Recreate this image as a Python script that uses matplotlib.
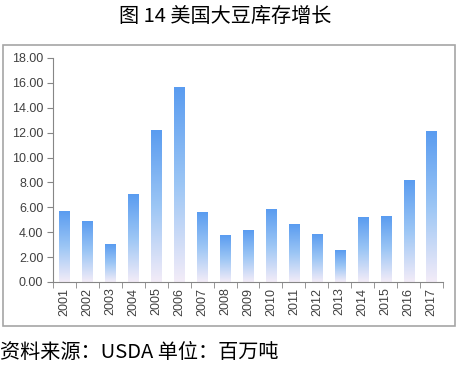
import matplotlib.pyplot as plt
import numpy as np
from matplotlib.colors import LinearSegmentedColormap
from matplotlib.patches import Rectangle

plt.rcParams["font.family"] = ["Liberation Sans", "Noto Sans CJK SC", "DejaVu Sans"]

years = [str(y) for y in range(2001, 2018)]
stocks = [5.65, 4.85, 3.05, 7.0, 12.2, 15.65, 5.55, 3.75, 4.1,
          5.8, 4.65, 3.8, 2.5, 5.15, 5.3, 8.15, 12.1]
yticks = np.arange(0, 18.01, 2)

fig = plt.figure(figsize=(4.62, 3.77), dpi=100)

# outer chart frame
fig.patches.append(Rectangle((3 / 462, 1 - 326 / 377), 452 / 462, 281 / 377,
                             transform=fig.transFigure, fill=False,
                             edgecolor="#a6a6a6", linewidth=1.2))

ax = fig.add_axes([53 / 462, 95 / 377, 390 / 462, 224 / 377])

cmap = LinearSegmentedColormap.from_list("bar", ["#f3ecf8", "#9cc6f5", "#5a9cf0"])
grad = np.linspace(0, 1, 256).reshape(-1, 1)
width = 0.44
x = np.arange(len(years))
for xi, h in zip(x, stocks):
    ax.imshow(grad, cmap=cmap, aspect="auto", origin="lower",
              extent=[xi - width / 2, xi + width / 2, 0, h], zorder=2)

ax.set_xlim(-0.5, len(years) - 0.5)
ax.set_ylim(0, 18)
ax.set_yticks(yticks)
ax.set_yticklabels([f"{v:.2f}" for v in yticks], fontsize=9, color="#404040")
ax.set_xticks(x)
ax.set_xticklabels(years, rotation=90, fontsize=9, color="#404040")
ax.set_xticks(np.arange(-0.5, len(years)), minor=True)
ax.tick_params(axis="x", which="major", length=0, pad=4)
ax.tick_params(axis="x", which="minor", length=4, color="#868686")
ax.tick_params(axis="y", length=4, color="#868686", pad=3)
for side in ["top", "right"]:
    ax.spines[side].set_visible(False)
for side in ["left", "bottom"]:
    ax.spines[side].set_color("#868686")

fig.text(0.487, 1 - 16 / 377, "图 14 美国大豆库存增长", ha="center", va="center",
         fontsize=14.5, family=["Noto Sans CJK SC", "DejaVu Sans"])
fig.text(0.0, 1 - 353 / 377, "资料来源：USDA 单位：百万吨", ha="left", va="center",
         fontsize=14.5, family=["Noto Sans CJK SC", "DejaVu Sans"])

fig.savefig("out.png", dpi=100)
